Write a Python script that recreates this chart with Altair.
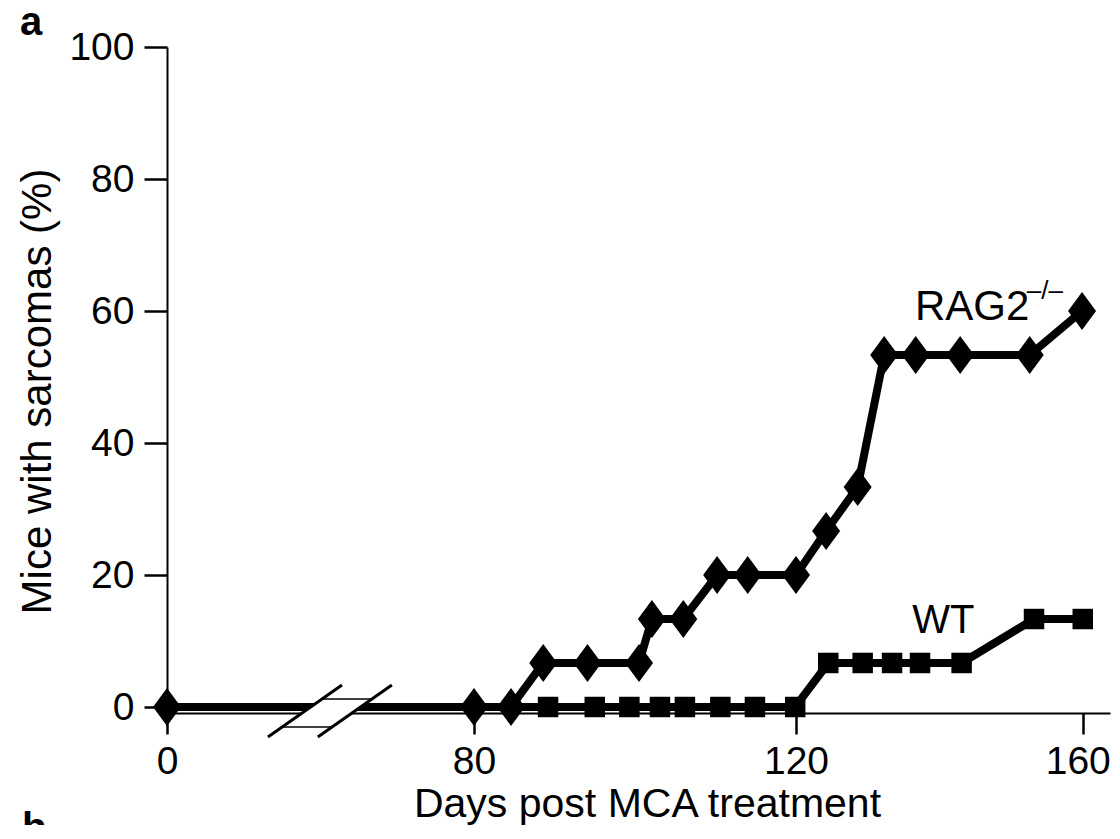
import altair as alt
import pandas as pd

# ---- data ----
rag_days = [0, 80, 84.6, 88.6, 94.1, 100.5, 102.1, 106.0, 110.2, 114.0, 120.0,
            124.2, 128.6, 132.3, 136.7, 142.9, 152.6, 159.9]
rag_pct = [0, 0, 0, 6.67, 6.67, 6.67, 13.33, 13.33, 20, 20, 20,
           26.67, 33.33, 53.33, 53.33, 53.33, 53.33, 60]

wt_days = [0, 80, 84.6, 89.2, 95.0, 99.3, 103.1, 106.2, 110.6, 114.9, 119.9,
           124.5, 129.3, 133.4, 137.3, 143.1, 153.2, 160.0]
wt_pct = [0, 0, 0, 0, 0, 0, 0, 0, 0, 0, 0,
          6.67, 6.67, 6.67, 6.67, 6.67, 13.33, 13.33]

x_ticks = [0, 80, 120, 160]
y_ticks = [0, 20, 40, 60, 80, 100]

series_labels = ["RAG2", "\u2013/\u2013", "WT"]
label_x = [136.6, 152.2, 136.2]
label_y = [58.6, 61.8, 11.2]
label_fs = [42, 26, 40]

# axis-break decoration (data units)
break_area_x = [30.0, 40.4, 43.0, 53.4]
break_area_top = [-3.03, 1.21, 1.21, 1.21]
break_area_bot = [-3.03, -3.03, -3.03, 1.21]
edge_x1 = [40.4, 30.0]
edge_x2 = [53.4, 43.0]
edge_y = [1.21, -3.03]
slash_x1 = [26.3, 39.3]
slash_x2 = [45.6, 58.6]
slash_y1 = [-4.55, -4.55]
slash_y2 = [3.33, 3.33]

FONT = "Liberation Sans"

rag = pd.DataFrame({"day": rag_days, "pct": rag_pct})
wt = pd.DataFrame({"day": wt_days, "pct": wt_pct})
labels = pd.DataFrame({"t": series_labels, "x": label_x, "y": label_y, "fs": label_fs})
barea = pd.DataFrame({"x": break_area_x, "top": break_area_top, "bot": break_area_bot})
bedge = pd.DataFrame({"x1": edge_x1, "x2": edge_x2, "y": edge_y})
bslash = pd.DataFrame({"x1": slash_x1, "x2": slash_x2, "y1": slash_y1, "y2": slash_y2})

xscale = alt.Scale(domain=[0, 80, 120, 163.8], range=[0, 307, 629, 943], nice=False, zero=False)
yscale = alt.Scale(domain=[0, 100], nice=False, zero=False)

xaxis = alt.Axis(values=x_ticks, title="Days post MCA treatment", grid=False,
                 offset=6, tickSize=21, tickWidth=2.5, domainWidth=2,
                 domainColor="black", tickColor="black", labelColor="black",
                 labelFont=FONT, labelFontSize=39, labelPadding=8,
                 labelFlush=False, labelOverlap=False,
                 labelOffset={"condition": {"test": "datum.value === 160", "value": -5},
                              "value": 0},
                 titleFont=FONT, titleFontSize=41, titleFontWeight="normal",
                 titleColor="black", titleX=480, titleY=103,
                 titleBaseline="alphabetic", titleAlign="center", zindex=0)
yaxis = alt.Axis(values=y_ticks, title="Mice with sarcomas (%)", grid=False,
                 tickSize=23, tickWidth=2.5, domainWidth=2,
                 domainColor="black", tickColor="black", labelColor="black",
                 labelFont=FONT, labelFontSize=39, labelPadding=10,
                 titleFont=FONT, titleFontSize=42, titleFontWeight="normal",
                 titleColor="black", titleX=-117, titleY=344, titleAngle=-90,
                 titleBaseline="alphabetic", titleAlign="center", zindex=0)


def X(field):
    return alt.X(field, type="quantitative", scale=xscale, axis=xaxis,
                 title="Days post MCA treatment")


def Y(field):
    return alt.Y(field, type="quantitative", scale=yscale, axis=yaxis,
                 title="Mice with sarcomas (%)")


wt_line = alt.Chart(wt).mark_line(color="black", strokeWidth=8).encode(
    x=X("day"), y=Y("pct"), order="day:Q")
rag_line = alt.Chart(rag).mark_line(color="black", strokeWidth=8).encode(
    x=X("day"), y=Y("pct"), order="day:Q")
wt_pts = alt.Chart(wt).transform_filter("datum.day > 85").mark_point(
    shape="square", filled=True, color="black", size=420, opacity=1, strokeWidth=0
).encode(x=X("day"), y=Y("pct"))
rag_pts = alt.Chart(rag).mark_point(
    shape="M0,-1.35L1,0L0,1.35L-1,0Z", filled=True, color="black", size=784,
    opacity=1, strokeWidth=0
).encode(x=X("day"), y=Y("pct"))

brk_area = alt.Chart(barea).mark_area(color="white", opacity=1).encode(
    x=X("x"), y=Y("top"), y2="bot")
brk_edge = alt.Chart(bedge).mark_rule(color="black", strokeWidth=1.5).encode(
    x=X("x1"), x2="x2", y=Y("y"))
brk_slash = alt.Chart(bslash).mark_rule(color="black", strokeWidth=3).encode(
    x=X("x1"), x2="x2", y=Y("y1"), y2="y2")

txt = alt.Chart(labels).mark_text(align="left", baseline="alphabetic", font=FONT,
                                  color="black").encode(
    x=X("x"), y=Y("y"), text="t:N", size=alt.Size("fs:Q", scale=None))

panel_a = alt.Chart(pd.DataFrame({"t": ["a"]})).mark_text(
    align="left", baseline="alphabetic", font=FONT, fontSize=40, fontWeight="bold",
    color="black").encode(x=alt.value(-147), y=alt.value(-12), text="t:N")
panel_b = alt.Chart(pd.DataFrame({"t": ["b"]})).mark_text(
    align="left", baseline="alphabetic", font=FONT, fontSize=40, fontWeight="bold",
    color="black").encode(x=alt.value(-145), y=alt.value(794), text="t:N")

chart = alt.layer(
    wt_line, rag_line, wt_pts, rag_pts, brk_area, brk_edge, brk_slash, txt,
    panel_a, panel_b
).properties(
    width=943, height=660,
    background="white",
    autosize=alt.AutoSizeParams(type="none"),
    padding={"left": 159, "top": 39, "right": 2, "bottom": 118},
).configure_view(stroke=None)

chart.save("out.html", embed_options={"renderer": "svg", "actions": False})
